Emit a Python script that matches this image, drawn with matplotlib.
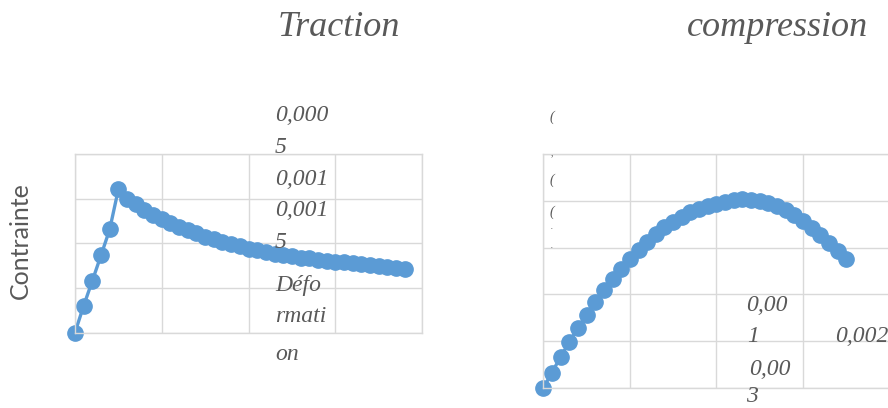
import matplotlib
matplotlib.use("Agg")
import matplotlib.pyplot as plt

# Tension branch: strain and stress
def_traction = [0.0, 0.00005, 0.0001, 0.00015, 0.0002, 0.00025, 0.0003, 0.00035,
                0.0004, 0.00045, 0.0005, 0.00055, 0.0006, 0.00065, 0.0007, 0.00075,
                0.0008, 0.00085, 0.0009, 0.00095, 0.001, 0.00105, 0.0011, 0.00115,
                0.0012, 0.00125, 0.0013, 0.00135, 0.0014, 0.00145, 0.0015, 0.00155,
                0.0016, 0.00165, 0.0017, 0.00175, 0.0018, 0.00185, 0.0019]
contrainte_traction = [0.0, 0.60, 1.16, 1.73, 2.31, 3.21, 2.99, 2.87, 2.75, 2.64,
                       2.54, 2.45, 2.36, 2.29, 2.22, 2.15, 2.09, 2.03, 1.98, 1.93,
                       1.88, 1.84, 1.80, 1.77, 1.74, 1.71, 1.68, 1.66, 1.63, 1.61,
                       1.59, 1.57, 1.55, 1.53, 1.51, 1.49, 1.47, 1.45, 1.43]

# Compression branch: strain and stress
def_compression = [0.0, 0.0001, 0.0002, 0.0003, 0.0004, 0.0005, 0.0006, 0.0007,
                   0.0008, 0.0009, 0.001, 0.0011, 0.0012, 0.0013, 0.0014, 0.0015,
                   0.0016, 0.0017, 0.0018, 0.0019, 0.002, 0.0021, 0.0022, 0.0023,
                   0.0024, 0.0025, 0.0026, 0.0027, 0.0028, 0.0029, 0.003, 0.0031,
                   0.0032, 0.0033, 0.0034, 0.0035]
contrainte_compression = [0.0, 3.27, 6.69, 9.77, 12.89, 15.60, 18.38, 20.94, 23.29,
                          25.53, 27.63, 29.55, 31.24, 32.91, 34.34, 35.53, 36.60,
                          37.54, 38.35, 38.99, 39.42, 39.81, 40.11, 40.28, 40.17,
                          39.89, 39.47, 38.89, 38.03, 36.97, 35.75, 34.25, 32.69,
                          31.05, 29.27, 27.56]

BLUE = "#5B9BD5"
GRID = "#D9D9D9"
TXT = "#595959"

W, H = 888, 408
fig = plt.figure(figsize=(W / 100, H / 100), dpi=100)


def px_axes(x0, x1, ytop, ybot):
    return fig.add_axes([x0 / W, (H - ybot) / H, (x1 - x0) / W, (ybot - ytop) / H])


def style(ax, xticks, yticks):
    ax.set_xticks(xticks)
    ax.set_yticks(yticks)
    ax.tick_params(length=0, labelbottom=False, labelleft=False)
    ax.grid(True, color=GRID, linewidth=1.0)
    ax.set_axisbelow(True)
    for s in ax.spines.values():
        s.set_color(GRID)
        s.set_linewidth(1.0)


ax1 = px_axes(75, 422, 154, 332.5)
ax1.plot(def_traction, contrainte_traction, color=BLUE, lw=2.4, marker="o",
         ms=11, clip_on=False)
ax1.set_xlim(0, 0.002)
ax1.set_ylim(0, 4)
style(ax1, [0, 0.0005, 0.001, 0.0015, 0.002], [0, 1, 2, 3, 4])

ax2 = px_axes(543.3, 889.5, 154, 388)
ax2.plot(def_compression, contrainte_compression, color=BLUE, lw=2.4, marker="o",
         ms=11, clip_on=False)
ax2.set_xlim(0, 0.004)
ax2.set_ylim(0, 50)
style(ax2, [0, 0.001, 0.002, 0.003, 0.004], [0, 10, 20, 30, 40, 50])


def ftext(x, y, s, **kw):
    kw.setdefault("color", TXT)
    fig.text(x / W, 1 - y / H, s, **kw)


serif_it = dict(family="Liberation Serif", style="italic")

ftext(339, 28, "Traction", ha="center", va="center", fontsize=26, **serif_it)
ftext(778, 28, "compression", ha="center", va="center", fontsize=26, **serif_it)

ftext(20, 241, "Contrainte", ha="center", va="center", rotation=90,
      fontsize=18, family="Lato")

# stacked axis labels of the tension chart
for yb, s in [(121, "0,000"), (153, "5"), (185, "0,001"), (216, "0,001"),
              (248, "5"), (291, "Défo"), (322, "rmati"), (360, "on")]:
    ftext(275, yb, s, ha="left", va="baseline", fontsize=17, **serif_it)

# axis labels of the compression chart
for x, yb, s in [(746, 311, "0,00"), (747, 342, "1"), (835, 342, "0,002"),
                 (749, 375, "0,00"), (746, 402, "3")]:
    ftext(x, yb, s, ha="left", va="baseline", fontsize=17, **serif_it)

# clipped value labels at the compression chart's left edge
for yc, s, fs in [(117, "(", 10), (153, ",", 7), (180, "(", 10),
                  (212, "(", 10), (227, ".", 6), (246, ".", 6)]:
    ftext(552, yc, s, ha="center", va="center", fontsize=fs, **serif_it)

fig.savefig("out.png", dpi=100)
